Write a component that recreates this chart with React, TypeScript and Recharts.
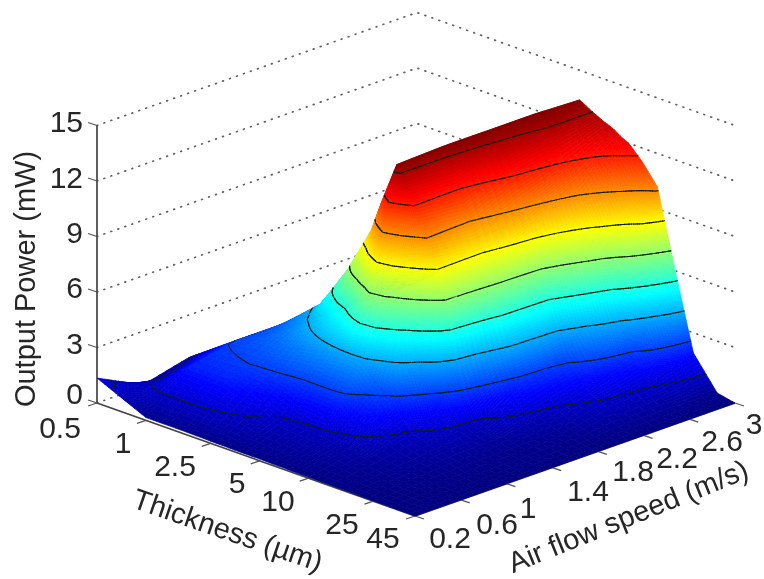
import React from "react";
import { ScatterChart, Scatter, XAxis, YAxis } from "recharts";

const W = 764;
const H = 579;

// Ticks shown on the three axes
const thicknessTicks = [0.5, 1, 2.5, 5, 10, 25, 45];
const airTicks = [0.2, 0.6, 1, 1.4, 1.8, 2.2, 2.6, 3];
const powerTicks = [0, 3, 6, 9, 12, 15];
const contourLevels = [1, 2.5, 4, 5.5, 7, 8.5, 10, 11.5, 13];

// Surface sampling
const thicknessRows = [0.5, 1, 1.7, 2.5, 3.5, 4, 5, 6, 7, 8, 9, 10, 12, 15, 20, 25, 35, 45];
const airCols = [0.2, 0.6, 1.0, 1.2, 1.4, 1.8, 2.2, 2.6, 3.0];
const power = [
  [1.35, 0.1, 0.7, 0.55, 0.4, 0.4, 0.4, 0.4, 0.4],
  [0.15, 2.1, 2.6, 2.6, 2.6, 2.6, 2.6, 2.6, 2.6],
  [0.15, 2.1, 3.0, 3.6, 4.4, 4.4, 4.4, 4.4, 4.4],
  [0.12, 1.6, 3.4, 4.6, 6.8, 6.8, 6.8, 6.8, 6.8],
  [0.1, 1.0, 3.7, 5.7, 9.4, 9.4, 9.4, 9.4, 9.4],
  [0.1, 0.9, 3.8, 6.4, 11.0, 11.0, 11.0, 11.0, 11.0],
  [0.1, 0.8, 3.9, 7.8, 13.4, 13.5, 13.5, 13.5, 13.4],
  [0.08, 0.75, 3.8, 7.4, 12.0, 11.9, 12.6, 13.0, 13.0],
  [0.08, 0.7, 3.1, 6.4, 10.75, 10.5, 11.6, 12.1, 12.7],
  [0.06, 0.6, 2.7, 5.4, 9.6, 9.3, 10.4, 11.3, 12.5],
  [0.06, 0.55, 2.3, 4.3, 8.3, 8.2, 9.1, 10.4, 12.2],
  [0.05, 0.5, 1.6, 3.2, 6.9, 7.3, 7.6, 9.6, 12.0],
  [0.05, 0.4, 0.9, 1.6, 3.3, 5.0, 5.2, 8.1, 11.3],
  [0.04, 0.3, 0.6, 0.8, 0.7, 2.2, 2.7, 5.4, 10.2],
  [0.03, 0.2, 0.35, 0.4, 0.4, 0.7, 1.4, 2.3, 5.45],
  [0.02, 0.1, 0.2, 0.2, 0.2, 0.35, 0.9, 1.1, 1.9],
  [0.01, 0.05, 0.05, 0.1, 0.1, 0.1, 0.3, 0.3, 0.2],
  [0, 0, 0, 0, 0, 0, 0, 0, 0],
];

const FONT = "'Liberation Sans', Arial, sans-serif";
const INK = "#262626";
const COLOR_MAX = 13.5;

const tOf = (th: number) => Math.log10(th / 0.5) / Math.log10(90);
const aOf = (air: number) => (air - 0.2) / 2.8;
const proj = (t: number, a: number, z: number) => ({
  x: 97 + 318 * t + 320 * a,
  y: 403 + 113 * t - 113 * a - 18.5 * z,
});

const clamp01 = (v: number) => Math.max(0, Math.min(1, v));
function jet(z: number) {
  const v = clamp01(z / COLOR_MAX);
  let r = 0, g = 0, b = 0;
  if (v < 0.125) { b = 0.5 + 4 * v; }
  else if (v < 0.375) { g = 4 * (v - 0.125); b = 1; }
  else if (v < 0.625) { r = 4 * (v - 0.375); g = 1; b = 1 - r; }
  else if (v < 0.875) { r = 1; g = 1 - 4 * (v - 0.625); }
  else { r = 1 - 4 * (v - 0.875); }
  return `rgb(${Math.round(r * 255)},${Math.round(g * 255)},${Math.round(b * 255)})`;
}

// Patches painted back to front
type Cell = { x: number; y: number; i: number; j: number };
const cells: Cell[] = [];
for (let i = 0; i < thicknessRows.length - 1; i++) {
  for (let j = airCols.length - 2; j >= 0; j--) {
    const c = proj(
      (tOf(thicknessRows[i]) + tOf(thicknessRows[i + 1])) / 2,
      (aOf(airCols[j]) + aOf(airCols[j + 1])) / 2,
      0
    );
    cells.push({ x: c.x, y: c.y, i, j });
  }
}

function SurfacePatch(props: any) {
  const { cx, cy, payload } = props;
  const { i, j, x: x0, y: y0 } = payload as Cell;
  const t0 = tOf(thicknessRows[i]);
  const t1 = tOf(thicknessRows[i + 1]);
  const a0 = aOf(airCols[j]);
  const a1 = aOf(airCols[j + 1]);
  const z00 = power[i][j];
  const z01 = power[i][j + 1];
  const z10 = power[i + 1][j];
  const z11 = power[i + 1][j + 1];
  const nt = Math.ceil(Math.max(1, (Math.max(Math.abs(z10 - z00), Math.abs(z11 - z01)) * 18.5) / 3, ((t1 - t0) * 318) / 8));
  const na = Math.ceil(Math.max(1, (Math.max(Math.abs(z01 - z00), Math.abs(z11 - z10)) * 18.5) / 3, ((a1 - a0) * 320) / 8));
  const zAt = (u: number, v: number) =>
    z00 * (1 - u) * (1 - v) + z01 * (1 - u) * v + z10 * u * (1 - v) + z11 * u * v;
  const pt = (u: number, v: number, z: number) => {
    const p = proj(t0 + (t1 - t0) * u, a0 + (a1 - a0) * v, z);
    return [cx + p.x - x0, cy + p.y - y0];
  };
  const polys: React.ReactNode[] = [];
  const lines: React.ReactNode[] = [];
  for (let m = 0; m < nt; m++) {
    for (let n = na - 1; n >= 0; n--) {
      const u0 = m / nt, u1 = (m + 1) / nt, v0 = n / na, v1 = (n + 1) / na;
      const corners: [number, number][] = [[u0, v0], [u0, v1], [u1, v1], [u1, v0]];
      const zs = corners.map(([u, v]) => zAt(u, v));
      const pts = corners.map(([u, v], k) => pt(u, v, zs[k]).map((q) => q.toFixed(1)).join(",")).join(" ");
      const col = jet((zs[0] + zs[1] + zs[2] + zs[3]) / 4);
      polys.push(<polygon key={`${m}-${n}`} points={pts} fill={col} stroke={col} strokeWidth={0.7} />);
      for (const lv of contourLevels) {
        const hits: number[][] = [];
        for (let e = 0; e < 4; e++) {
          const za = zs[e], zb = zs[(e + 1) % 4];
          if ((za < lv) !== (zb < lv)) {
            const f = (lv - za) / (zb - za);
            const ca = corners[e], cb = corners[(e + 1) % 4];
            hits.push(pt(ca[0] + (cb[0] - ca[0]) * f, ca[1] + (cb[1] - ca[1]) * f, lv));
          }
        }
        if (hits.length >= 2) {
          lines.push(
            <line key={`${m}-${n}-${lv}`} x1={hits[0][0]} y1={hits[0][1]} x2={hits[1][0]} y2={hits[1][1]}
              stroke="#102010" strokeWidth={1.1} strokeLinecap="round" />
          );
        }
      }
    }
  }
  return <g>{polys}{lines}</g>;
}

// Wall grid and axis geometry
const wallLine = (z: number) => [proj(0, 0, z), proj(0, 1, z), proj(1, 1, z)];
const zAxisLine = [proj(0, 0, 15), proj(0, 0, 0)];
const tAxisLine = [proj(0, 0, 0), proj(1, 0, 0)];
const aAxisLine = [proj(1, 0, 0), proj(1, 1, 0)];

const zTickLines = powerTicks.map((z) => {
  const p = proj(0, 0, z);
  return [p, { x: p.x - 9, y: p.y - 3 }];
});
const tTickLines = thicknessTicks.map((th) => {
  const p = proj(tOf(th), 0, 0);
  return [p, { x: p.x - 9, y: p.y + 3 }];
});
const aTickLines = airTicks.map((air) => {
  const p = proj(1, aOf(air), 0);
  return [p, { x: p.x + 9, y: p.y + 3 }];
});

const powerLabels = [
  { x: 83, y: 393, label: "0" },
  { x: 83, y: 343, label: "3" },
  { x: 83, y: 287, label: "6" },
  { x: 83, y: 232, label: "9" },
  { x: 83, y: 177, label: "12" },
  { x: 83, y: 121, label: "15" },
];
const thicknessLabels = [
  { x: 60, y: 427, label: "0.5" },
  { x: 123, y: 442, label: "1" },
  { x: 175, y: 465, label: "2.5" },
  { x: 237, y: 482, label: "5" },
  { x: 278, y: 500, label: "10" },
  { x: 342, y: 523, label: "25" },
  { x: 383, y: 537, label: "45" },
];
const airLabels = [
  { x: 450, y: 537, label: "0.2" },
  { x: 497, y: 523, label: "0.6" },
  { x: 528, y: 507, label: "1" },
  { x: 588, y: 490, label: "1.4" },
  { x: 633, y: 470, label: "1.8" },
  { x: 677, y: 457, label: "2.2" },
  { x: 722, y: 440, label: "2.6" },
  { x: 754, y: 423, label: "3" },
];
const titles = [
  { x: 25, y: 279, label: "Output Power (mW)", rot: -90 },
  { x: 228, y: 530, label: "Thickness (µm)", rot: 19 },
  { x: 628, y: 516, label: "Air flow speed (m/s)", rot: -22 },
];

const noShape = () => <g />;
const tickText = (anchor: string) => (p: any) => (
  <text x={p.cx} y={p.cy} textAnchor={anchor} dominantBaseline="central" fontFamily={FONT} fontSize={30} fill={INK}>
    {p.payload.label}
  </text>
);
const titleText = (p: any) => (
  <text x={p.cx} y={p.cy} textAnchor="middle" dominantBaseline="central" fontFamily={FONT} fontSize={29} fill={INK}
    transform={`rotate(${p.payload.rot} ${p.cx} ${p.cy})`}>
    {p.payload.label}
  </text>
);

export default function App() {
  return (
    <div style={{ position: "absolute", left: 0, top: 0, width: W, height: H, background: "#fff", filter: "blur(0.45px)" }}>
      <ScatterChart width={W} height={H} margin={{ top: 0, right: 0, bottom: 0, left: 0 }}>
        <XAxis type="number" dataKey="x" domain={[0, W]} hide />
        <YAxis type="number" dataKey="y" domain={[0, H]} reversed hide />
        {powerTicks.map((z) => (
          <Scatter key={`g${z}`} data={wallLine(z)} isAnimationActive={false} shape={noShape}
            line={{ stroke: "#606060", strokeWidth: 1.7, strokeDasharray: "0.8 6.6", strokeLinecap: "round" }} />
        ))}
        <Scatter data={zAxisLine} isAnimationActive={false} shape={noShape} line={{ stroke: "#444", strokeWidth: 1.7 }} />
        <Scatter data={tAxisLine} isAnimationActive={false} shape={noShape} line={{ stroke: "#444", strokeWidth: 1.7 }} />
        <Scatter data={aAxisLine} isAnimationActive={false} shape={noShape} line={{ stroke: "#444", strokeWidth: 1.7 }} />
        {[...zTickLines, ...tTickLines, ...aTickLines].map((seg, k) => (
          <Scatter key={`t${k}`} data={seg} isAnimationActive={false} shape={noShape} line={{ stroke: "#555", strokeWidth: 1.3 }} />
        ))}
        <Scatter data={cells} isAnimationActive={false} shape={SurfacePatch} />
        <Scatter data={powerLabels} isAnimationActive={false} shape={tickText("end")} />
        <Scatter data={thicknessLabels} isAnimationActive={false} shape={tickText("middle")} />
        <Scatter data={airLabels} isAnimationActive={false} shape={tickText("middle")} />
        <Scatter data={titles} isAnimationActive={false} shape={titleText} />
      </ScatterChart>
    </div>
  );
}
